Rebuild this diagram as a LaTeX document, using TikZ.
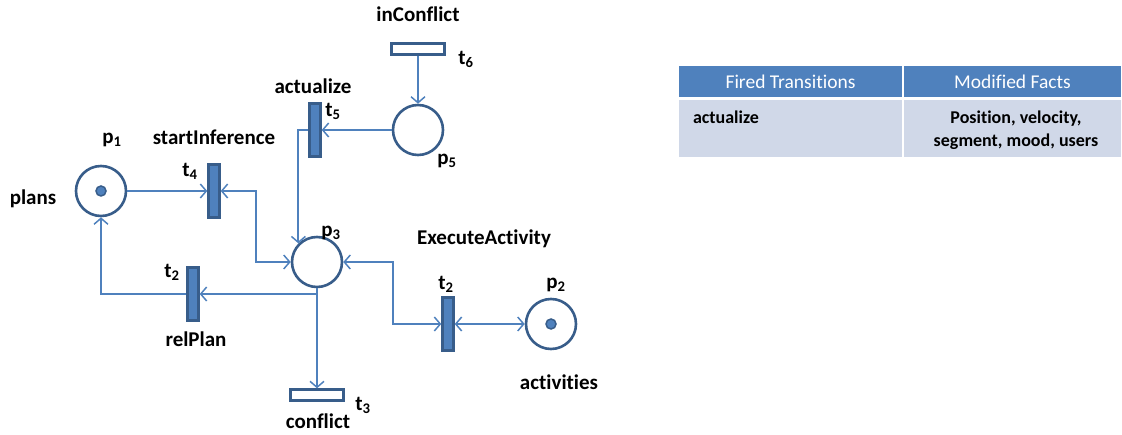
\documentclass[tikz,border=0pt]{standalone}
\usepackage{fontspec}
\setmainfont{Carlito}[Ligatures=NoCommon]
\usetikzlibrary{arrows.meta}
\definecolor{edgeblue}{HTML}{385D8A}
\definecolor{arcblue}{HTML}{4F81BD}
\definecolor{hdrblue}{HTML}{4F81BD}
\definecolor{rowblue}{HTML}{D0D8E8}
\tikzset{
  place/.style={circle, draw=edgeblue, line width=2.6pt, minimum size=50pt, inner sep=0pt, fill=white},
  token/.style={circle, draw=edgeblue, fill=arcblue, line width=1.5pt, minimum size=10pt, inner sep=0pt},
  vtrans/.style={rectangle, draw=edgeblue, fill=arcblue, line width=2.4pt, minimum width=11pt, minimum height=53pt, inner sep=0pt},
  htrans/.style={rectangle, draw=edgeblue, fill=white, line width=2.4pt, minimum width=53pt, minimum height=11pt, inner sep=0pt},
  arc/.style={draw=arcblue, line width=2pt, -{Straight Barb[length=6pt,width=14pt,line width=1.5pt]}},
  arcboth/.style={draw=arcblue, line width=2pt, {Straight Barb[length=6pt,width=14pt,line width=1.5pt]}-{Straight Barb[length=6pt,width=14pt,line width=1.5pt]}},
  lbl/.style={font=\fontsize{21}{24}\selectfont\bfseries, inner sep=0pt},
  hcell/.style={rectangle, draw=white, line width=2pt, fill=hdrblue, text=white, inner sep=0pt, font=\fontsize{19.5}{22}\selectfont},
  bcell/.style={rectangle, draw=white, line width=2pt, fill=rowblue, inner sep=0pt, font=\fontsize{18}{23}\selectfont\bfseries, align=center},
}
\begin{document}
\begin{tikzpicture}[x=1pt, y=-1pt]
\useasboundingbox (0,0) rectangle (1122,435);

% places
\node[place] (p1) at (101,191) {};
\node[token] (k1tok) at (p1) {};
\node[place] (p5) at (418,130) {};
\node[place] (p3) at (317,262) {};
\node[place] (p2) at (551,324) {};
\node[token] (k2tok) at (p2) {};

% transitions
\node[vtrans] (t4) at (214,191) {};
\node[vtrans] (t5) at (315,130) {};
\node[vtrans] (t2l) at (193,294) {};
\node[vtrans] (t2r) at (448,324) {};
\node[htrans] (t6) at (418,49) {};
\node[htrans] (t3) at (317,395) {};

% bend points
\coordinate (b1) at (256,191);
\coordinate (b2) at (393,262);

% arcs
\draw[arc] (p1) -- (t4);
\draw[arcboth] (t4) -- (b1) |- (p3);
\draw[arc] (p5) -- (t5);
\draw[arc] (t5.west) -| (p3.north west);
\draw[arc] (t6) -- (p5);
\draw[arc] (p3.south) |- (t2l.east);
\draw[arc] (p3) -- (t3);
\draw[arc] (t2l.west) -| (p1.south);
\draw[arcboth] (p3) -- (b2) |- (t2r.west);
\draw[arcboth] (t2r) -- (p2);

% labels
\node[lbl] (l-inc) at (418,14) {inConflict};
\node[lbl] (l-t6) at (466,59) {t\textsubscript{6}};
\node[lbl] (l-act) at (313,86) {actualize};
\node[lbl] (l-t5) at (333,111) {t\textsubscript{5}};
\node[lbl] (l-p5) at (447,161) {p\textsubscript{5}};
\node[lbl] (l-p1) at (112,140) {p\textsubscript{1}};
\node[lbl] (l-si) at (214,137) {startInference};
\node[lbl] (l-t4) at (190,171) {t\textsubscript{4}};
\node[lbl] (l-plans) at (33,199) {plans};
\node[lbl] (l-p3) at (331,233) {p\textsubscript{3}};
\node[lbl] (l-ea) at (484,239) {ExecuteActivity};
\node[lbl] (l-t2r) at (446,284) {t\textsubscript{2}};
\node[lbl] (l-p2) at (556,285) {p\textsubscript{2}};
\node[lbl] (l-t2l) at (172,272) {t\textsubscript{2}};
\node[lbl] (l-rel) at (196,339) {relPlan};
\node[lbl] (l-actv) at (559,382) {activities};
\node[lbl] (l-conf) at (318,421) {conflict};
\node[lbl] (l-t3) at (363,405) {t\textsubscript{3}};

% table of fired transitions
\node[hcell, minimum width=225pt, minimum height=33pt] (h1) at (790.5,81.5) {Fired Transitions};
\node[hcell, minimum width=219pt, minimum height=33pt] (h2) at (1012.5,81.5) {Modified Facts};
\node[bcell, minimum width=225pt, minimum height=59pt] (c1) at (790.5,128.5) {};
\node[bcell, minimum width=219pt, minimum height=59pt] (c2) at (1012.5,128.5) {};
\node[bcell, draw=none, fill=none] (c2t) at (1016,130) {Position, velocity,\\segment, mood, users};
\node[bcell, draw=none, fill=none, anchor=west] (c1t) at (692,117) {actualize};
\end{tikzpicture}
\end{document}
